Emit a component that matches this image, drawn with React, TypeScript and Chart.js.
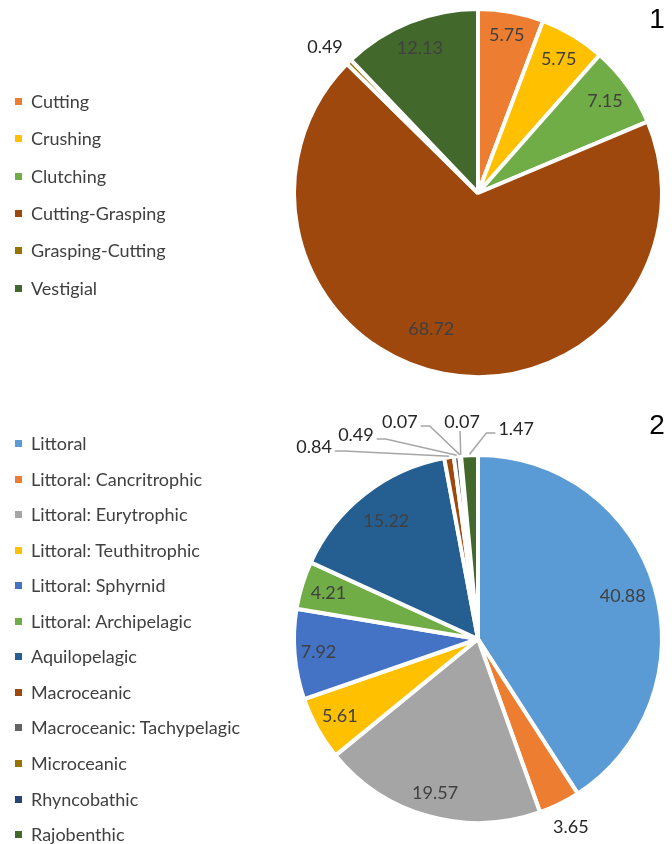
import React, { useEffect, useRef } from 'react';
import { Chart, registerables } from 'chart.js';

Chart.register(...registerables);

// ---------- Data ----------
const toothCategories = ['Cutting', 'Crushing', 'Clutching', 'Cutting-Grasping', 'Grasping-Cutting', 'Vestigial'];
const toothValues = [5.75, 5.75, 7.15, 68.72, 0.49, 12.13];
const toothColors = ['#ED7D31', '#FFC000', '#70AD47', '#9E480E', '#997300', '#43682B'];

const habitatCategories = [
  'Littoral',
  'Littoral: Cancritrophic',
  'Littoral: Eurytrophic',
  'Littoral: Teuthitrophic',
  'Littoral: Sphyrnid',
  'Littoral: Archipelagic',
  'Aquilopelagic',
  'Macroceanic',
  'Macroceanic: Tachypelagic',
  'Microceanic',
  'Rhyncobathic',
  'Rajobenthic',
];
const habitatValues = [40.88, 3.65, 19.57, 5.61, 7.92, 4.21, 15.22, 0.84, 0.49, 0.07, 0.07, 1.47];
const habitatColors = [
  '#5B9BD5', '#ED7D31', '#A5A5A5', '#FFC000', '#4472C4', '#70AD47',
  '#255E91', '#9E480E', '#636363', '#997300', '#264478', '#43682B',
];

// ---------- Label placement (style: polar position relative to the pie) ----------
type Place = { dist: number; angle?: number; outside?: boolean; leader?: boolean };
const toothPlace: Place[] = [
  { dist: 0.87 },
  { dist: 0.85 },
  { dist: 0.85 },
  { dist: 0.78, angle: 199 },
  { dist: 1.15, angle: 313.7, outside: true },
  { dist: 0.85 },
];
const habitatPlace: Place[] = [
  { dist: 0.82 },
  { dist: 1.14, outside: true },
  { dist: 0.87 },
  { dist: 0.86 },
  { dist: 0.87 },
  { dist: 0.85 },
  { dist: 0.81 },
  { dist: 1.372, angle: 319.5, outside: true, leader: true },
  { dist: 1.292, angle: 329.1, outside: true, leader: true },
  { dist: 1.253, angle: 340.2, outside: true, leader: true },
  { dist: 1.183, angle: 355.8, outside: true, leader: true },
  { dist: 1.16, angle: 10.3, outside: true, leader: true },
];

const FONT = 'Lato, "Open Sans", sans-serif';
const TEXT_COLOR = '#404040';

function makeLabelPlugin(place: Place[], tag: string, tagY: number) {
  return {
    id: 'sliceLabels' + tag,
    afterDatasetsDraw(chart: any) {
      const ctx: CanvasRenderingContext2D = chart.ctx;
      const meta = chart.getDatasetMeta(0);
      const values = chart.data.datasets[0].data as number[];
      ctx.save();
      ctx.font = `18px ${FONT}`;
      ctx.textAlign = 'center';
      ctx.textBaseline = 'middle';
      meta.data.forEach((arc: any, i: number) => {
        const p = place[i];
        if (!p) return;
        const { x, y, startAngle, endAngle, outerRadius } = arc.getProps(
          ['x', 'y', 'startAngle', 'endAngle', 'outerRadius'],
          true
        );
        const mid = (startAngle + endAngle) / 2;
        const ang = p.angle != null ? ((p.angle - 90) * Math.PI) / 180 : mid;
        const lx = x + Math.cos(ang) * outerRadius * p.dist;
        const ly = y + Math.sin(ang) * outerRadius * p.dist;
        const text = values[i].toFixed(2);
        const w = ctx.measureText(text).width;
        if (p.leader) {
          const ex = x + Math.cos(mid) * (outerRadius - 1);
          const ey = y + Math.sin(mid) * (outerRadius - 1);
          ctx.save();
          ctx.strokeStyle = '#A6A6A6';
          ctx.lineWidth = 1.5;
          ctx.beginPath();
          if (Math.abs(ex - lx) < w / 2) {
            ctx.moveTo(lx - 2, ly + 9);
            ctx.lineTo(ex, ey - 2);
          } else if (ex > lx) {
            const sx = lx + w / 2 + 3;
            ctx.moveTo(sx, ly + 4);
            ctx.lineTo(sx + 9, ly + 4);
            ctx.lineTo(ex, ey - 2);
          } else {
            const sx = lx - w / 2 - 3;
            ctx.moveTo(sx, ly + 4);
            ctx.lineTo(sx - 9, ly + 4);
            ctx.lineTo(ex, ey - 2);
          }
          ctx.stroke();
          ctx.restore();
        }
        ctx.fillStyle = p.outside ? '#262626' : TEXT_COLOR;
        ctx.fillText(text, lx, ly);
      });
      // panel number
      ctx.font = '28px "Liberation Sans", Arial, sans-serif';
      ctx.fillStyle = '#000000';
      ctx.textAlign = 'center';
      ctx.fillText(tag, 657, tagY);
      ctx.restore();
    },
  };
}

type PieProps = {
  labels: string[];
  values: number[];
  colors: string[];
  place: Place[];
  tag: string;
  tagY: number;
  top: number;
  height: number;
  padTop: number;
  padBottom: number;
};

function PiePanel({ labels, values, colors, place, tag, tagY, top, height, padTop, padBottom }: PieProps) {
  const ref = useRef<HTMLCanvasElement>(null);
  useEffect(() => {
    if (!ref.current) return;
    const chart = new Chart(ref.current, {
      type: 'pie',
      data: {
        labels,
        datasets: [
          {
            data: values,
            backgroundColor: colors,
            borderColor: '#FFFFFF',
            borderWidth: 4,
            radius: 184,
          } as any,
        ],
      },
      options: {
        responsive: false,
        animation: false,
        devicePixelRatio: 1,
        layout: { padding: { left: 294, right: 10, top: padTop, bottom: padBottom } },
        plugins: {
          legend: { display: false },
          tooltip: { enabled: false },
        },
        events: [],
      } as any,
      plugins: [makeLabelPlugin(place, tag, tagY)],
    });
    return () => chart.destroy();
  }, []);
  return (
    <canvas
      ref={ref}
      width={672}
      height={height}
      style={{ position: 'absolute', left: 0, top, width: 672, height }}
    />
  );
}

function Legend({ labels, colors, firstY, step }: { labels: string[]; colors: string[]; firstY: number; step: number }) {
  return (
    <>
      {labels.map((l, i) => (
        <div
          key={l}
          style={{
            position: 'absolute',
            left: 0,
            top: firstY + i * step - 12,
            height: 24,
            width: 300,
            display: 'flex',
            alignItems: 'center',
            fontFamily: FONT,
            fontSize: 18,
            color: TEXT_COLOR,
            whiteSpace: 'nowrap',
          }}
        >
          <span style={{ position: 'absolute', left: 15, top: 9, width: 7, height: 7, background: colors[i] }} />
          <span style={{ position: 'absolute', left: 31, lineHeight: '24px' }}>{l}</span>
        </div>
      ))}
    </>
  );
}

export default function App() {
  return (
    <div
      style={{
        position: 'absolute',
        left: 0,
        top: 0,
        width: 672,
        height: 844,
        overflow: 'hidden',
        background: '#FFFFFF',
      }}
    >
      <PiePanel
        labels={toothCategories}
        values={toothValues}
        colors={toothColors}
        place={toothPlace}
        tag="1"
        tagY={20}
        top={0}
        height={400}
        padTop={9}
        padBottom={23}
      />
      <Legend labels={toothCategories} colors={toothColors} firstY={101} step={37.3} />
      <PiePanel
        labels={habitatCategories}
        values={habitatValues}
        colors={habitatColors}
        place={habitatPlace}
        tag="2"
        tagY={26}
        top={400}
        height={444}
        padTop={56}
        padBottom={22}
      />
      <Legend labels={habitatCategories} colors={habitatColors} firstY={443} step={35.55} />
    </div>
  );
}
